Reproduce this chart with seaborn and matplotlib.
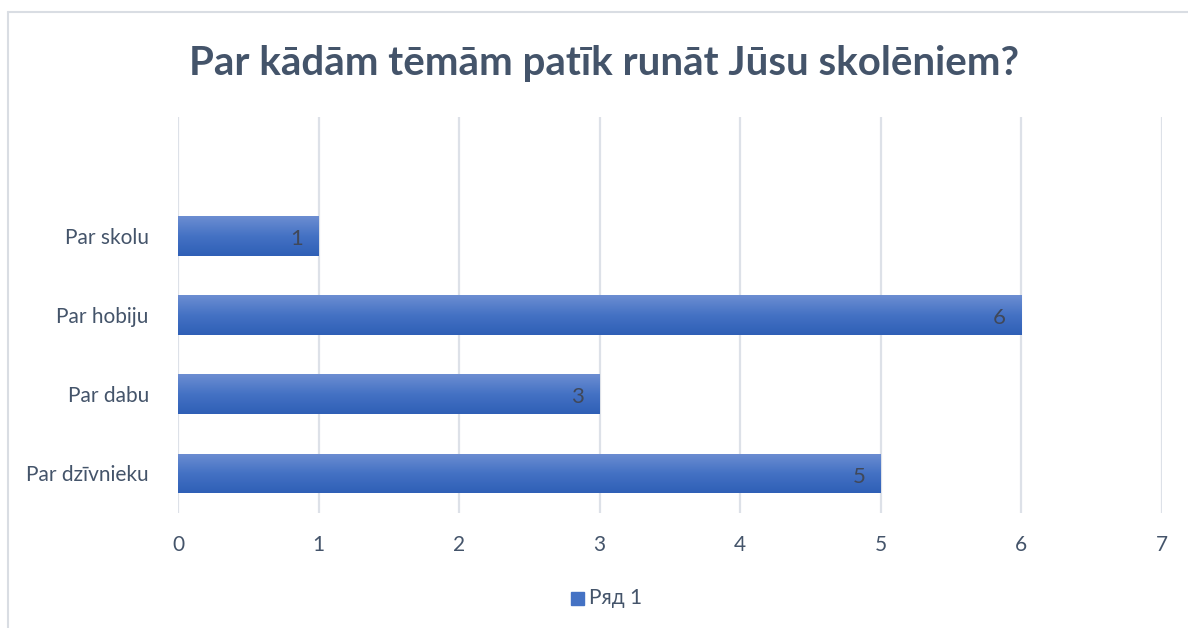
import numpy as np
import pandas as pd
import matplotlib.pyplot as plt
import seaborn as sns
from matplotlib.colors import LinearSegmentedColormap

# data (top category is empty in the original chart)
categories = ['', 'Par skolu', 'Par hobiju', 'Par dabu', 'Par dzīvnieku']
values = [np.nan, 1, 6, 3, 5]
series_name = 'Ряд 1'
title = 'Par kādām tēmām patīk runāt Jūsu skolēniem?'
x_ticks = [0, 1, 2, 3, 4, 5, 6, 7]

sns.set_theme(style='white')
plt.rcParams['font.family'] = ['Lato', 'DejaVu Sans']

text_color = '#44546a'
grid_color = '#dde1e8'
bar_cmap = LinearSegmentedColormap.from_list('bar', ['#6d8ed2', '#4472c4', '#2f5fb6'])

df = pd.DataFrame({'category': categories, 'value': values})

fig = plt.figure(figsize=(11.88, 6.28), dpi=100)
ax = fig.add_axes([178 / 1188, 1 - 513 / 628, (1162 - 178) / 1188, (513 - 117) / 628])

sns.barplot(data=df, x='value', y='category', orient='h', color='#4472c4',
            width=0.5, ax=ax, zorder=2)

ax.set_xlim(0, 7)
ax.set_ylim(len(categories) - 0.5, -0.5)
ax.set_xticks(x_ticks)
ax.set_xticklabels([str(t) for t in x_ticks])
ax.grid(axis='x', color=grid_color, linewidth=1.6, zorder=0)
ax.grid(axis='y', visible=False)
for s in ax.spines.values():
    s.set_visible(False)
ax.tick_params(axis='both', length=0, colors=text_color, labelsize=15)
ax.tick_params(axis='x', pad=16)
ax.tick_params(axis='y', pad=21)
ax.set_xlabel('')
ax.set_ylabel('')

# gradient fill over each bar
grad = np.linspace(0, 1, 256).reshape(-1, 1)
for p in ax.patches:
    w = p.get_width()
    if not np.isfinite(w) or w == 0:
        continue
    x0, y0 = p.get_x(), p.get_y()
    h = p.get_height()
    p.set_facecolor('none')
    p.set_edgecolor('none')
    im = ax.imshow(grad, cmap=bar_cmap, aspect='auto', zorder=3,
                   extent=(x0, x0 + w, y0 + h, y0), interpolation='bicubic')
    im.set_clip_path(p)
    ax.text(x0 + w - 0.11, y0 + h / 2 + 0.04, f'{int(w)}', ha='right', va='center',
            fontsize=16, color='#404859', zorder=4)

ax.set_xlim(0, 7)
ax.set_ylim(len(categories) - 0.5, -0.5)

fig.text(604 / 1188, 1 - 64 / 628, title, ha='center', va='center',
         fontsize=29, fontweight='bold', color=text_color)

# legend
fig.patches.append(plt.Rectangle((571 / 1188, 1 - 605 / 628), 13 / 1188, 13 / 628,
                                 transform=fig.transFigure, color='#4472c4'))
fig.text(589 / 1188, 1 - 598 / 628, series_name, ha='left', va='center',
         fontsize=15, color=text_color)

# chart border (top and left visible)
fig.add_artist(plt.Line2D([8 / 1188, 1], [1 - 12 / 628, 1 - 12 / 628],
                          transform=fig.transFigure, color='#d9dde3', linewidth=1.5))
fig.add_artist(plt.Line2D([8 / 1188, 8 / 1188], [0, 1 - 12 / 628],
                          transform=fig.transFigure, color='#d9dde3', linewidth=1.5))

fig.savefig('out.png', dpi=100)
